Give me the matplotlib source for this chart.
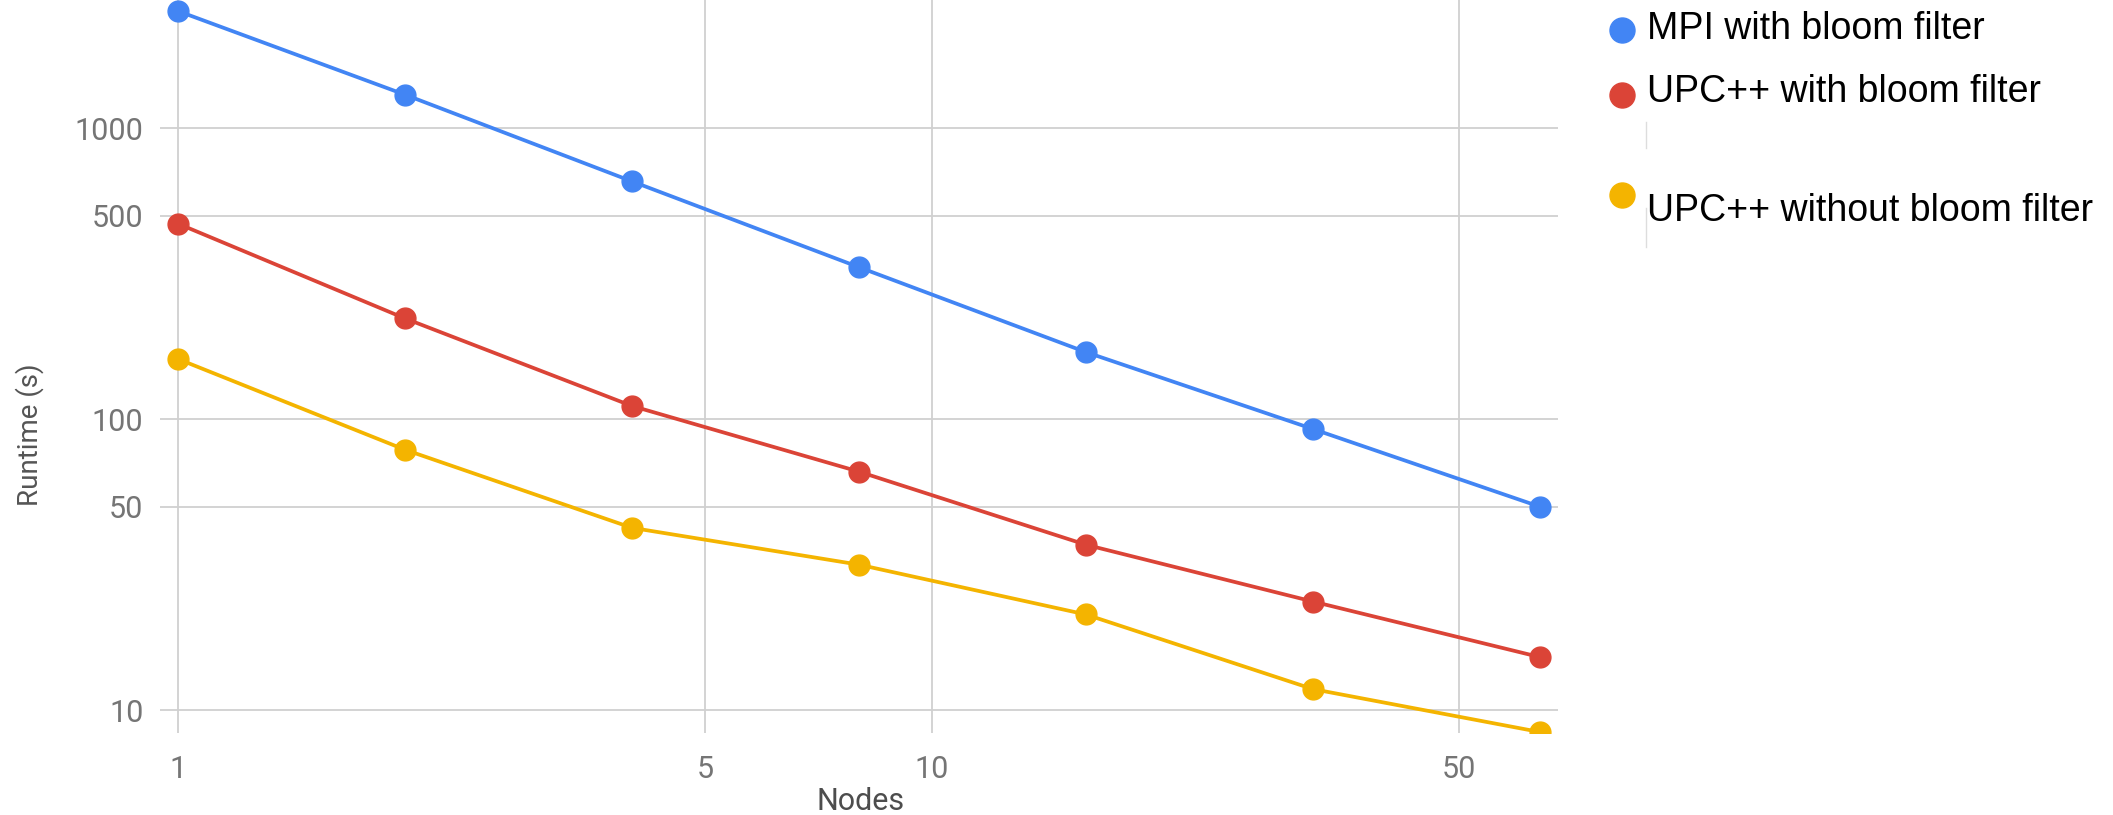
import matplotlib
matplotlib.use("Agg")
import matplotlib.pyplot as plt
from matplotlib.lines import Line2D

# ---- data ----
nodes = [1, 2, 4, 8, 16, 32, 64]
mpi_bloom = [2530, 1305, 657, 333, 170, 92.5, 50]
upc_bloom = [470, 222, 111, 66, 37, 23.6, 15.2]
upc_nobloom = [161, 78.5, 42.3, 31.6, 21.3, 11.8, 8.4]
series_names = ["MPI with bloom filter", "UPC++ with bloom filter", "UPC++ without bloom filter"]
series_colors = ["#4285F4", "#DB4437", "#F4B400"]
y_ticks = [10, 50, 100, 500, 1000]
x_ticks = [1, 5, 10, 50]
x_label = "Nodes"
y_label = "Runtime (s)"

W, H = 2113, 815
fig = plt.figure(figsize=(W / 100, H / 100), dpi=100)
fig.patch.set_facecolor("white")

# axes area in pixels
left, right, bottom, top = 160, 1558, 733, 0
ax = fig.add_axes([left / W, 1 - bottom / H, (right - left) / W, (bottom - top) / H])
ax.set_xscale("log")
ax.set_yscale("log")
xdec = 754.0
x0px = 178.0
ax.set_xlim(10 ** ((left - x0px) / xdec), 10 ** ((right - x0px) / xdec))
ydec = (710 - 128.3) / 2
ax.set_ylim(10 ** (1 - (bottom - 710) / ydec), 10 ** (3 + (128.3 - top) / ydec))

for sp in ax.spines.values():
    sp.set_visible(False)

grid_c = "#d0d0d0"
for t in y_ticks:
    ax.axhline(t, color=grid_c, lw=1.3, zorder=1)
for t in x_ticks:
    ax.axvline(t, color=grid_c, lw=1.3, zorder=1)

for vals, c in zip([mpi_bloom, upc_bloom, upc_nobloom], series_colors):
    ax.plot(nodes, vals, color=c, lw=2.7, marker="o", ms=15, mec=c, mfc=c, zorder=3)

ax.set_yticks(y_ticks)
ax.set_yticklabels([str(t) for t in y_ticks])
ax.set_xticks(x_ticks)
ax.set_xticklabels([str(t) for t in x_ticks])
ax.minorticks_off()
ax.tick_params(axis="both", length=0, labelsize=22, labelcolor="#757575")
ax.tick_params(axis="y", pad=12)
ax.tick_params(axis="x", pad=16)
for lab in ax.get_xticklabels() + ax.get_yticklabels():
    lab.set_fontfamily("Roboto")

fig.text(861 / W, 1 - 801 / H, x_label, ha="center", va="center",
         fontsize=22, color="#4d4d4d", family="Roboto")
fig.text(30 / W, 1 - 435 / H, y_label, ha="center", va="center", rotation=90,
         fontsize=20, color="#555555", family="Roboto")

# legend (drawn in figure pixel coordinates)
leg_circle_x = 1622
leg_text_x = 1647
leg_circle_y = [30, 95, 195]
leg_text_y = [29, 92, 211]
for name, c, cy, ty in zip(series_names, series_colors, leg_circle_y, leg_text_y):
    fig.add_artist(Line2D([leg_circle_x / W], [1 - cy / H], marker="o", ms=18,
                          color=c, mec=c, lw=0, transform=fig.transFigure))
    fig.text(leg_text_x / W, 1 - ty / H, name, ha="left", va="center",
             fontsize=27, color="black", family="Liberation Sans")

# faint artifacts beside legend
for y1, y2 in [(122, 148), (208, 247)]:
    fig.add_artist(Line2D([1646 / W, 1646 / W], [1 - y1 / H, 1 - y2 / H],
                          color="#dddddd", lw=1, transform=fig.transFigure))

fig.savefig("out.png", dpi=100, facecolor="white")
